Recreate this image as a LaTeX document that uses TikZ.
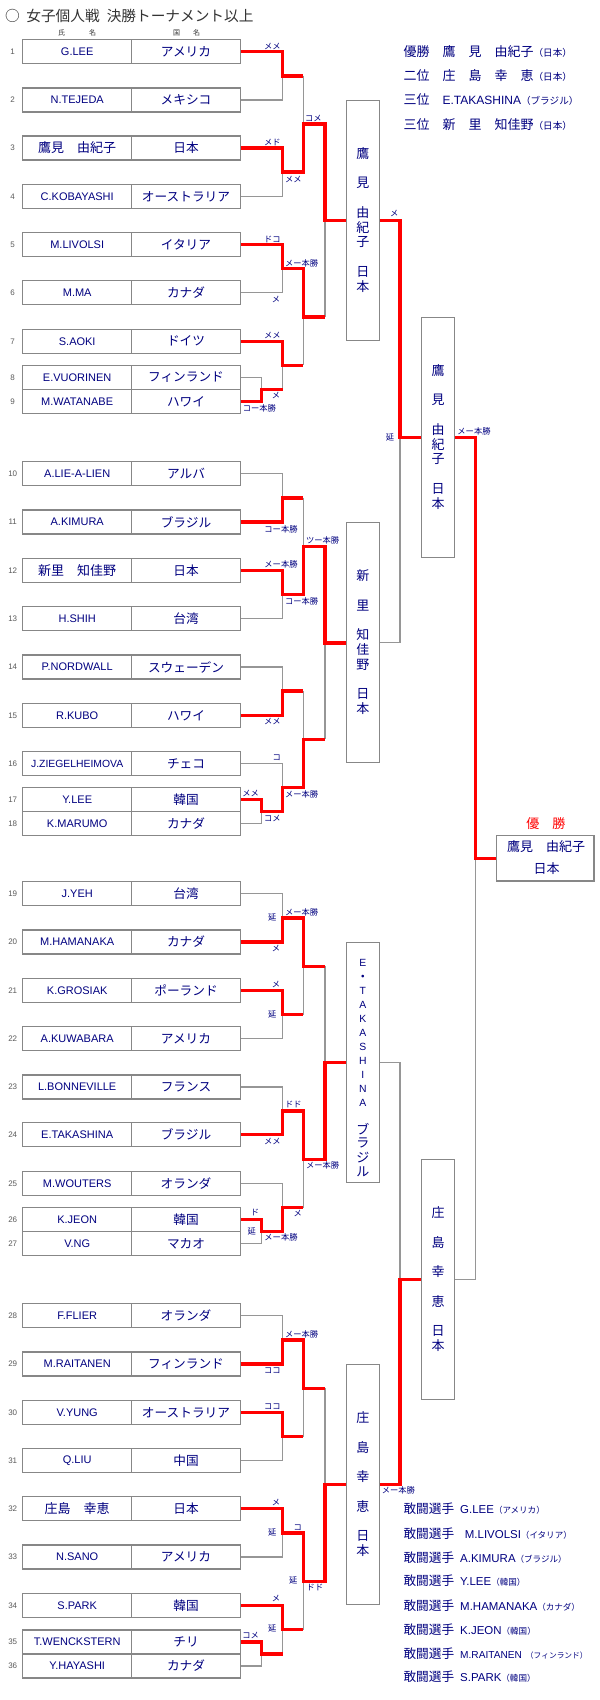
\documentclass[tikz,border=0pt]{standalone}
\usepackage{fontspec}
\setmainfont{Noto Sans CJK JP}
\newfontfamily\lat{Liberation Sans}
\definecolor{navy}{RGB}{0,0,128}
\definecolor{boxgray}{RGB}{135,135,135}
\definecolor{linegray}{RGB}{150,150,150}
\definecolor{numgray}{RGB}{90,90,90}
\definecolor{titlegray}{RGB}{51,51,51}
\definecolor{wred}{RGB}{255,0,0}
\def\XA{261.7}\def\XB{282.7}\def\XC{303.3}\def\XD{325}\def\XE{400}\def\XF{475.7}
\newcommand\jnm{\normalfont\fontsize{9.75pt}{10pt}\selectfont}
\newcommand\vlat[1]{{\lat\fontsize{7.8pt}{8pt}\selectfont #1}}
\tikzset{
 ncell/.style={draw=boxgray, line width=0.85pt, minimum width=81.75pt, minimum height=18pt, inner sep=0pt, text=navy, font=\lat\fontsize{8.25pt}{9pt}\selectfont},
 ccell/.style={draw=boxgray, line width=0.85pt, minimum width=81.45pt, minimum height=18pt, inner sep=0pt, text=navy, font=\fontsize{9.5pt}{10pt}\selectfont},
 numlab/.style={text=numgray, font=\lat\fontsize{6pt}{7pt}\selectfont, inner sep=0pt},
 gline/.style={draw=linegray, line width=0.85pt},
 rline/.style={draw=wred, line width=2.5pt},
 score/.style={text=navy, font=\fontsize{6.2pt}{7pt}\selectfont, inner sep=0pt},
 qbox/.style={draw=boxgray, line width=0.85pt, minimum width=24.75pt, minimum height=180pt, inner sep=0pt},
 sbox/.style={draw=boxgray, line width=0.85pt, minimum width=24.45pt, minimum height=180pt, inner sep=0pt},
 fbox/.style={draw=boxgray, line width=0.85pt, minimum width=73pt, minimum height=34pt, inner sep=0pt},
 vchar/.style={text=navy, font=\fontsize{9.75pt}{10pt}\selectfont, inner sep=0pt},
 hdr/.style={text=titlegray, font=\fontsize{5.25pt}{6pt}\selectfont, inner sep=0pt},
 res/.style={anchor=west, text=navy, font=\fontsize{9.75pt}{10pt}\selectfont, inner sep=0pt},
 aw/.style={anchor=west, text=navy, font=\fontsize{9.5pt}{10pt}\selectfont, inner sep=0pt},
}
\newcommand\plyr[4]{%
  \node[numlab] (k#1) at (12.7,#2) {#1};
  \node[ncell] (n#1) at (77.2,#2) {#3};
  \node[ccell] (c#1) at (186,#2) {#4};
}
\newcommand\jnc[4]{\coordinate (#1) at (#2,#3); \coordinate (#1o) at (#4,#3);}
\newcommand\vstk[4]{\foreach \k/\c in {#4} \node[vchar] at (#1,{#2+\k*#3}) {\c};}
\newcommand\awd[4]{\node[aw] at (403.3,#1) {敢闘選手\hspace{#2}{\lat\fontsize{8.6pt}{9pt}\selectfont #3}{\fontsize{6.4pt}{7pt}\selectfont #4}};}
\begin{document}
\begin{tikzpicture}[x=0.75pt,y=-0.75pt,line join=miter]
\fill[white] (0,0) rectangle (600,1700);
\useasboundingbox (0,0) rectangle (600,1700);

% title and headers
\node[anchor=west, inner sep=0pt, text=titlegray, font=\fontsize{11pt}{12pt}\selectfont] (title) at (4.8,15.7) {○\hspace{5pt}女子個人戦\hspace{5.3pt}決勝トーナメント以上};
\node[hdr] (h1) at (77.2,33.3) {氏\hspace{18pt}名};
\node[hdr] (h2) at (186.7,33.3) {国\hspace{9.75pt}名};

% players
\plyr{1}{51.7}{G.LEE}{アメリカ}
\plyr{2}{100}{N.TEJEDA}{メキシコ}
\plyr{3}{148}{\jnm 鷹見　由紀子}{日本}
\plyr{4}{196.3}{C.KOBAYASHI}{オーストラリア}
\plyr{5}{244.7}{M.LIVOLSI}{イタリア}
\plyr{6}{292.8}{M.MA}{カナダ}
\plyr{7}{341.3}{S.AOKI}{ドイツ}
\plyr{8}{377.4}{E.VUORINEN}{フィンランド}
\plyr{9}{401.4}{M.WATANABE}{ハワイ}
\plyr{10}{473.8}{A.LIE-A-LIEN}{アルバ}
\plyr{11}{522}{A.KIMURA}{ブラジル}
\plyr{12}{570.5}{\jnm 新里　知佳野}{日本}
\plyr{13}{618.8}{H.SHIH}{台湾}
\plyr{14}{667}{P.NORDWALL}{スウェーデン}
\plyr{15}{715.3}{R.KUBO}{ハワイ}
\plyr{16}{763.7}{\fontsize{7.8pt}{8pt}\selectfont J.ZIEGELHEIMOVA}{チェコ}
\plyr{17}{799.7}{Y.LEE}{韓国}
\plyr{18}{823.7}{K.MARUMO}{カナダ}
\plyr{19}{893.7}{J.YEH}{台湾}
\plyr{20}{942}{M.HAMANAKA}{カナダ}
\plyr{21}{990.3}{K.GROSIAK}{ポーランド}
\plyr{22}{1038.7}{A.KUWABARA}{アメリカ}
\plyr{23}{1087}{L.BONNEVILLE}{フランス}
\plyr{24}{1134.7}{E.TAKASHINA}{ブラジル}
\plyr{25}{1183.7}{M.WOUTERS}{オランダ}
\plyr{26}{1219.7}{K.JEON}{韓国}
\plyr{27}{1243.7}{V.NG}{マカオ}
\plyr{28}{1315.8}{F.FLIER}{オランダ}
\plyr{29}{1364}{M.RAITANEN}{フィンランド}
\plyr{30}{1412.5}{V.YUNG}{オーストラリア}
\plyr{31}{1460.8}{Q.LIU}{中国}
\plyr{32}{1508.7}{\jnm 庄島　幸恵}{日本}
\plyr{33}{1557}{N.SANO}{アメリカ}
\plyr{34}{1605.3}{S.PARK}{韓国}
\plyr{35}{1642}{T.WENCKSTERN}{チリ}
\plyr{36}{1666}{Y.HAYASHI}{カナダ}

% quarter, semi, final boxes
\node[qbox] (q1) at (362.8,220.5) {};
\node[qbox] (q2) at (362.8,642.86) {};
\node[qbox] (q3) at (362.8,1062.73) {};
\node[qbox] (q4) at (362.8,1484.77) {};
\node[sbox] (sf1) at (438,437.5) {};
\node[sbox] (sf2) at (438,1279.5) {};
\node[fbox] (fin) at (545.35,858.3) {};

\vstk{362.8}{153.5}{14.78}{0/鷹,2/見,4/由,5/紀,6/子,8/日,9/本}
\vstk{362.8}{575.86}{14.78}{0/新,2/里,4/知,5/佳,6/野,8/日,9/本}
\vstk{362.8}{962.73}{14.05}{0/\vlat{E},2/\vlat{T},3/\vlat{A},4/\vlat{K},5/\vlat{A},6/\vlat{S},7/\vlat{H},8/\vlat{I},9/\vlat{N},10/\vlat{A},11.85/ブ,12.85/ラ,13.85/ジ,14.85/ル}
\node[vchar] at (362.8,978.3) {・};
\vstk{362.8}{1417.77}{14.78}{0/庄,2/島,4/幸,6/恵,8/日,9/本}
\vstk{438}{370.5}{14.78}{0/鷹,2/見,4/由,5/紀,6/子,8/日,9/本}
\vstk{438}{1212.5}{14.78}{0/庄,2/島,4/幸,6/恵,8/日,9/本}

\node[vchar] at (546,846.7) {鷹見　由紀子};
\node[vchar] at (546.7,869) {日本};
\node[text=wred, font=\fontsize{9.75pt}{10pt}\selectfont, inner sep=0pt] (win) at (545.8,823.3) {優　勝};

% junction coordinates
\jnc{a89}{\XA}{389.4}{\XB}
\jnc{a12}{\XB}{75.85}{\XC}
\jnc{a34}{\XB}{172.15}{\XC}
\jnc{a56}{\XB}{268.75}{\XC}
\jnc{a7}{\XB}{365.35}{\XC}
\jnc{b12}{\XC}{124.0}{\XD}
\jnc{b56}{\XC}{317.05}{\XD}
\coordinate (r1) at (\XD,220.5);
\jnc{a1718}{\XA}{811.7}{\XB}
\jnc{a1011}{\XB}{497.9}{\XC}
\jnc{a1213}{\XB}{594.65}{\XC}
\jnc{a1415}{\XB}{691.15}{\XC}
\jnc{a16}{\XB}{787.7}{\XC}
\jnc{b1013}{\XC}{546.3}{\XD}
\jnc{b1418}{\XC}{739.4}{\XD}
\coordinate (r2) at (\XD,642.86);
\jnc{a2627}{\XA}{1231.7}{\XB}
\jnc{a1920}{\XB}{917.85}{\XC}
\jnc{a2122}{\XB}{1014.5}{\XC}
\jnc{a2324}{\XB}{1110.85}{\XC}
\jnc{a25}{\XB}{1207.7}{\XC}
\jnc{b1922}{\XC}{966.18}{\XD}
\jnc{b2327}{\XC}{1159.28}{\XD}
\coordinate (r3) at (\XD,1062.73);
\jnc{a3536}{\XA}{1654}{\XB}
\jnc{a2829}{\XB}{1339.9}{\XC}
\jnc{a3031}{\XB}{1436.65}{\XC}
\jnc{a3233}{\XB}{1532.85}{\XC}
\jnc{a34s}{\XB}{1629.65}{\XC}
\jnc{b2831}{\XC}{1388.28}{\XD}
\jnc{b3236}{\XC}{1581.25}{\XD}
\coordinate (r4) at (\XD,1484.77);
\coordinate (s1) at (\XE,437.5);
\coordinate (s2) at (\XE,1279.5);
\coordinate (fj) at (\XF,858.3);

% gray skeleton
\draw[gline] (c1.east) -| (a12) |- (c2.east) (a12) -- (a12o);
\draw[gline] (c3.east) -| (a34) |- (c4.east) (a34) -- (a34o);
\draw[gline] (c5.east) -| (a56) |- (c6.east) (a56) -- (a56o);
\draw[gline] (c8.east) -| (a89) |- (c9.east) (a89) -- (a89o);
\draw[gline] (c7.east) -| (a7) -- (a89o) (a7) -- (a7o);
\draw[gline] (a12o) -- (a34o) (b12) -- (b12o);
\draw[gline] (a56o) -- (a7o) (b56) -- (b56o);
\draw[gline] (b12o) -- (b56o) (r1) -- (q1.west);

\draw[gline] (c10.east) -| (a1011) |- (c11.east) (a1011) -- (a1011o);
\draw[gline] (c12.east) -| (a1213) |- (c13.east) (a1213) -- (a1213o);
\draw[gline] (c14.east) -| (a1415) |- (c15.east) (a1415) -- (a1415o);
\draw[gline] (c17.east) -| (a1718) |- (c18.east) (a1718) -- (a1718o);
\draw[gline] (c16.east) -| (a16) -- (a1718o) (a16) -- (a16o);
\draw[gline] (a1011o) -- (a1213o) (b1013) -- (b1013o);
\draw[gline] (a1415o) -- (a16o) (b1418) -- (b1418o);
\draw[gline] (b1013o) -- (b1418o) (r2) -- (q2.west);

\draw[gline] (c19.east) -| (a1920) |- (c20.east) (a1920) -- (a1920o);
\draw[gline] (c21.east) -| (a2122) |- (c22.east) (a2122) -- (a2122o);
\draw[gline] (c23.east) -| (a2324) |- (c24.east) (a2324) -- (a2324o);
\draw[gline] (c26.east) -| (a2627) |- (c27.east) (a2627) -- (a2627o);
\draw[gline] (c25.east) -| (a25) -- (a2627o) (a25) -- (a25o);
\draw[gline] (a1920o) -- (a2122o) (b1922) -- (b1922o);
\draw[gline] (a2324o) -- (a25o) (b2327) -- (b2327o);
\draw[gline] (b1922o) -- (b2327o) (r3) -- (q3.west);

\draw[gline] (c28.east) -| (a2829) |- (c29.east) (a2829) -- (a2829o);
\draw[gline] (c30.east) -| (a3031) |- (c31.east) (a3031) -- (a3031o);
\draw[gline] (c32.east) -| (a3233) |- (c33.east) (a3233) -- (a3233o);
\draw[gline] (c35.east) -| (a3536) |- (c36.east) (a3536) -- (a3536o);
\draw[gline] (c34.east) -| (a34s) -- (a3536o) (a34s) -- (a34so);
\draw[gline] (a2829o) -- (a3031o) (b2831) -- (b2831o);
\draw[gline] (a3233o) -- (a34so) (b3236) -- (b3236o);
\draw[gline] (b2831o) -- (b3236o) (r4) -- (q4.west);

\draw[gline] (q1.east) -| (s1) |- (q2.east) (s1) -- (sf1.west);
\draw[gline] (q3.east) -| (s2) |- (q4.east) (s2) -- (sf2.west);
\draw[gline] (sf1.east) -| (fj) |- (sf2.east) (fj) -- (fin.west);

% red winner paths
\draw[rline] (c1.east) -| (a12) -- (a12o);
\draw[rline] (c3.east) -| (a34) -- (a34o) -- (b12) -- (b12o) -- (r1) -- (q1.west);
\draw[rline] (c5.east) -| (a56) -- (a56o) -- (b56) -- (b56o);
\draw[rline] (c7.east) -| (a7) -- (a7o);
\draw[rline] (c9.east) -| (a89) -- (a89o);
\draw[rline] (q1.east) -| (s1) -- (sf1.west);
\draw[rline] (sf1.east) -| (fj) -- (fin.west);
\draw[rline] (c11.east) -| (a1011) -- (a1011o);
\draw[rline] (c12.east) -| (a1213) -- (a1213o) -- (b1013) -- (b1013o) -- (r2) -- (q2.west);
\draw[rline] (c15.east) -| (a1415) -- (a1415o);
\draw[rline] (c17.east) -| (a1718) -- (a1718o) -- (a16) -- (a16o) -- (b1418) -- (b1418o);
\draw[rline] (c20.east) -| (a1920) -- (a1920o) -- (b1922) -- (b1922o);
\draw[rline] (c21.east) -| (a2122) -- (a2122o);
\draw[rline] (c24.east) -| (a2324) -- (a2324o) -- (b2327) -- (b2327o) -- (r3) -- (q3.west);
\draw[rline] (c26.east) -| (a2627) -- (a2627o) -- (a25) -- (a25o);
\draw[rline] (c29.east) -| (a2829) -- (a2829o) -- (b2831) -- (b2831o);
\draw[rline] (c30.east) -| (a3031) -- (a3031o);
\draw[rline] (c32.east) -| (a3233) -- (a3233o) -- (b3236) -- (b3236o) -- (r4) -- (q4.west);
\draw[rline] (q4.east) -| (s2) -- (sf2.west);
\draw[rline] (c34.east) -| (a34s) -- (a34so);
\draw[rline] (c35.east) -| (a3536) -- (a3536o);

% score labels
\foreach \x/\y/\t in {272.3/46/メメ, 313.3/118.3/コメ, 272.3/142.7/メド, 293.3/179/メメ,
  272.3/239/ドコ, 301.7/263.3/メー本勝, 276/299.3/メ, 272.3/335/メメ, 276/395/メ, 259.3/408.3/コー本勝,
  394.3/213.3/メ, 390/437.3/延, 474/431.7/メー本勝,
  281/529/コー本勝, 322.7/540/ツー本勝, 281/564.3/メー本勝, 301.7/601/コー本勝,
  272.3/721/メメ, 276.7/757.7/コ, 250.7/793.3/メメ, 301.7/794/メー本勝, 272.3/818.3/コメ,
  301.7/912.3/メー本勝, 272.3/917.3/延, 276/948.3/メ, 276/984/メ, 272.3/1014/延,
  293.3/1104.3/ドド, 272.3/1141/メメ, 322.7/1165.7/メー本勝, 255/1212.7/ド, 297.7/1213.3/メ,
  251.7/1231.7/延, 281/1237.3/メー本勝,
  301.7/1334.3/メー本勝, 272.3/1371/ココ, 272.3/1406.7/ココ,
  276/1502.7/メ, 272.3/1532.7/延, 297.7/1527.7/コ, 293.3/1580.7/延, 315/1587.3/ドド,
  276/1598.3/メ, 272.3/1628.3/延, 250.7/1635.7/コメ, 398.3/1490.4/メー本勝}
  \node[score] at (\x,\y) {\t};

% results
\node[res] (res1) at (403.3,51.7) {優勝　鷹　見　由紀子{\fontsize{7.2pt}{7pt}\selectfont（日本）}};
\node[res] (res2) at (403.3,76) {二位　庄　島　幸　恵{\fontsize{7.2pt}{7pt}\selectfont（日本）}};
\node[res] (res3) at (403.3,100) {三位　{\lat\fontsize{9pt}{9pt}\selectfont E.TAKASHINA}{\fontsize{7.2pt}{7pt}\selectfont（ブラジル）}};
\node[res] (res4) at (403.3,124.3) {三位　新　里　知佳野{\fontsize{7.2pt}{7pt}\selectfont（日本）}};

% fighting spirit awards
\awd{1508.7}{4.5pt}{G.LEE}{（アメリカ）}
\awd{1533.2}{8pt}{M.LIVOLSI}{（イタリア）}
\awd{1557.3}{4.5pt}{A.KIMURA}{（ブラジル）}
\awd{1581}{4.5pt}{Y.LEE}{（韓国）}
\awd{1605.2}{4.5pt}{M.HAMANAKA}{（カナダ）}
\awd{1629.3}{4.5pt}{K.JEON}{（韓国）}
\node[aw] at (403.3,1653.4) {敢闘選手\hspace{4.5pt}{\lat\fontsize{7.6pt}{8pt}\selectfont M.RAITANEN}\hspace{3pt}{\fontsize{5.8pt}{6pt}\selectfont（フィンランド）}};
\awd{1677.1}{4.5pt}{S.PARK}{（韓国）}
\end{tikzpicture}
\end{document}
